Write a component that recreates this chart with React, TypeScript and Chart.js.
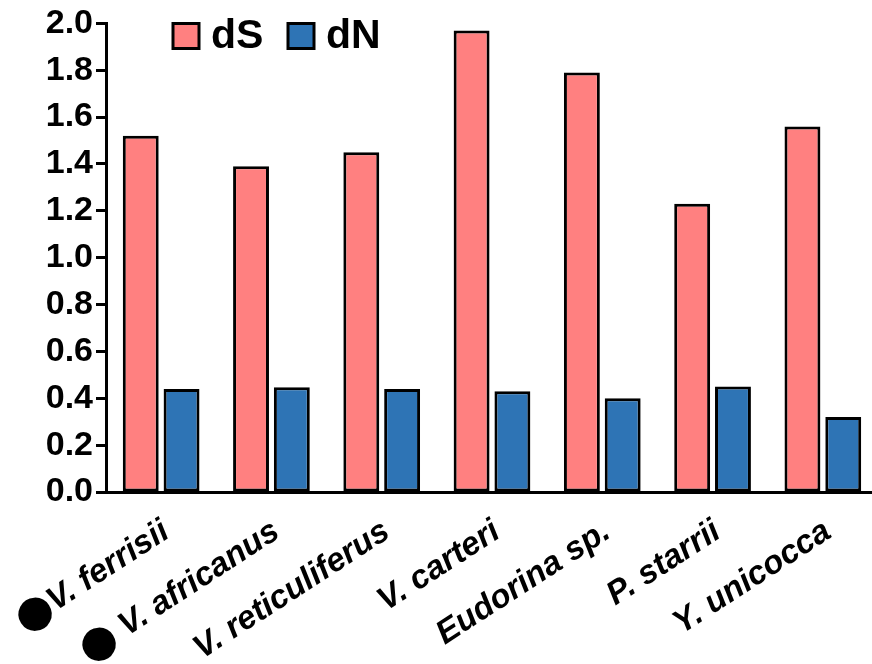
import React, { useEffect, useRef } from "react";
import { Chart, registerables } from "chart.js";

Chart.register(...registerables);

const categories = [
  "⬤V. ferrisii",
  "⬤ V. africanus",
  "V. reticuliferus",
  "V. carteri",
  "Eudorina sp.",
  "P. starrii",
  "Y. unicocca",
];
const dSValues = [1.52, 1.39, 1.45, 1.97, 1.79, 1.23, 1.56];
const dNValues = [0.44, 0.447, 0.44, 0.43, 0.40, 0.45, 0.32];
const seriesNames = ["dS", "dN"];
const seriesColors = ["#FF8080", "#2E74B5"];

const FONT = '"Liberation Sans", Arial, "DejaVu Sans", sans-serif';

const legendPlugin = {
  id: "customLegend",
  afterDraw(chart: any) {
    const ctx = chart.ctx;
    const left = chart.chartArea.left;
    ctx.save();
    const starts = [left + 67, left + 182];
    seriesNames.forEach((name, i) => {
      const x = starts[i];
      const y = 23.5;
      ctx.fillStyle = seriesColors[i];
      ctx.fillRect(x, y, 26, 25);
      ctx.lineWidth = 3;
      ctx.strokeStyle = "#000";
      ctx.strokeRect(x, y, 26, 25);
      ctx.fillStyle = "#000";
      ctx.font = `bold 41px ${FONT}`;
      ctx.textBaseline = "alphabetic";
      ctx.textAlign = "left";
      ctx.fillText(name, x + 38, 48);
    });
    ctx.restore();
  },
};

export default function App() {
  const ref = useRef<HTMLCanvasElement | null>(null);
  useEffect(() => {
    if (!ref.current) return;
    const chart = new Chart(ref.current, {
      type: "bar",
      data: {
        labels: categories,
        datasets: [
          {
            label: seriesNames[0],
            data: dSValues,
            backgroundColor: seriesColors[0],
            borderColor: "#000",
            borderWidth: 3,
            borderSkipped: false,
          },
          {
            label: seriesNames[1],
            data: dNValues,
            backgroundColor: seriesColors[1],
            borderColor: "#000",
            borderWidth: 3,
            borderSkipped: false,
          },
        ],
      },
      options: {
        animation: false,
        responsive: false,
        maintainAspectRatio: false,
        datasets: { bar: { categoryPercentage: 0.74, barPercentage: 0.88 } },
        layout: { padding: { top: 22, right: 0, left: 0, bottom: 0 } },
        plugins: {
          legend: { display: false },
          tooltip: { enabled: false },
        },
        scales: {
          x: {
            grid: { display: false },
            border: { display: true, color: "#000", width: 3 },
            ticks: {
              color: "#000",
              font: { family: FONT, size: 33, weight: "bold", style: "italic" },
              minRotation: 33,
              maxRotation: 33,
              autoSkip: false,
              padding: 12,
              labelOffset: 5,
            },
            afterFit(scale: any) {
              scale.height = 172;
              scale.paddingRight = 0;
              scale.paddingLeft = 0;
            },
          },
          y: {
            min: 0,
            max: 2.0,
            grid: {
              drawOnChartArea: false,
              drawTicks: true,
              tickLength: 10,
              tickWidth: 3,
              tickColor: "#000",
            },
            border: { display: true, color: "#000", width: 3 },
            ticks: {
              stepSize: 0.2,
              color: "#000",
              padding: 3,
              font: { family: FONT, size: 34, weight: "bold" },
              callback: (v: any) => Number(v).toFixed(1),
            },
            afterFit(scale: any) {
              scale.width = 106;
            },
          },
        },
      },
      plugins: [legendPlugin],
    });
    return () => chart.destroy();
  }, []);
  return (
    <div style={{ position: "absolute", left: 0, top: 0, width: 872, height: 664, background: "#fff", overflow: "hidden" }}>
      <canvas ref={ref} width={878} height={664} style={{ display: "block" }} />
    </div>
  );
}
